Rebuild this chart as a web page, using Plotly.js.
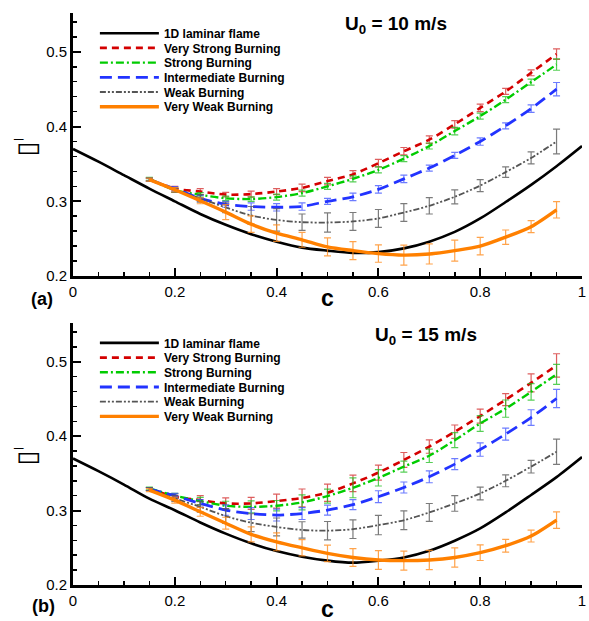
<!DOCTYPE html>
<html><head><meta charset="utf-8">
<script src="https://cdn.plot.ly/plotly-3.0.1.min.js"></script>
<style>html,body{margin:0;padding:0;background:#fff}</style>
</head><body>
<div id="chart" style="width:589px;height:621px"></div>
<script>
// ---------- data ----------
var cLam = [0,0.05,0.1,0.15,0.2,0.25,0.3,0.35,0.4,0.45,0.5,0.55,0.6,0.65,0.7,0.75,0.8,0.85,0.9,0.95,1.0];
var lamA = [0.370,0.353,0.335,0.317,0.300,0.283,0.2685,0.256,0.246,0.238,0.234,0.231,0.232,0.237,0.246,0.259,0.277,0.299,0.322,0.347,0.374];
var lamB = [0.370,0.353,0.335,0.316,0.3005,0.284,0.269,0.256,0.2456,0.238,0.2327,0.230,0.2327,0.237,0.246,0.2595,0.276,0.2975,0.321,0.345,0.372];

var cVals = [0.15,0.2,0.25,0.3,0.35,0.4,0.45,0.5,0.55,0.6,0.65,0.7,0.75,0.8,0.85,0.9,0.95];

// panel (a): U0 = 10 m/s
var vsA  = [0.329,0.317,0.313,0.309,0.3096,0.313,0.318,0.327,0.336,0.351,0.367,0.3825,0.403,0.425,0.447,0.472,0.497];
var sA   = [0.330,0.315,0.3087,0.304,0.303,0.3056,0.311,0.320,0.330,0.342,0.357,0.374,0.394,0.414,0.436,0.4595,0.483];
var iA   = [0.329,0.3168,0.304,0.296,0.293,0.292,0.293,0.300,0.306,0.316,0.330,0.3445,0.3615,0.380,0.401,0.424,0.450];
var wA   = [0.329,0.315,0.304,0.2917,0.281,0.275,0.272,0.2716,0.273,0.277,0.285,0.294,0.306,0.321,0.339,0.358,0.380];
var vwA  = [0.329,0.3154,0.3007,0.2855,0.2694,0.2573,0.2485,0.239,0.234,0.230,0.228,0.2295,0.234,0.240,0.252,0.266,0.2886];
var vsAe = [0.002,0.003,0.004,0.003,0.004,0.004,0.005,0.005,0.005,0.005,0.005,0.005,0.005,0.005,0.004,0.004,0.007];
var sAe  = [0.002,0.003,0.003,0.003,0.003,0.004,0.004,0.004,0.004,0.004,0.004,0.004,0.005,0.004,0.004,0.004,0.0076];
var iAe  = [0.002,0.003,0.004,0.004,0.005,0.005,0.005,0.004,0.005,0.005,0.005,0.004,0.004,0.005,0.004,0.005,0.009];
var wAe  = [0.002,0.003,0.005,0.007,0.012,0.015,0.011,0.0128,0.012,0.012,0.012,0.011,0.0094,0.008,0.007,0.008,0.0166];
var vwAe = [0.002,0.003,0.004,0.010,0.011,0.011,0.010,0.012,0.012,0.0116,0.0134,0.0134,0.014,0.0116,0.0096,0.008,0.011];

// panel (b): U0 = 15 m/s
var vsB  = [0.329,0.3186,0.314,0.3096,0.3096,0.3128,0.317,0.324,0.3365,0.351,0.368,0.386,0.406,0.427,0.449,0.4716,0.495];
var sB   = [0.3297,0.320,0.3128,0.3065,0.305,0.3065,0.311,0.3195,0.3306,0.344,0.359,0.3736,0.3946,0.417,0.437,0.4595,0.483];
var iB   = [0.329,0.320,0.3096,0.3007,0.296,0.294,0.296,0.3007,0.308,0.3186,0.331,0.3454,0.3624,0.382,0.4027,0.425,0.4506];
var wB   = [0.329,0.3163,0.305,0.2926,0.2837,0.278,0.274,0.273,0.275,0.2805,0.287,0.2975,0.3096,0.323,0.340,0.359,0.379];
var vwB  = [0.3275,0.314,0.2984,0.283,0.268,0.258,0.250,0.2425,0.237,0.2336,0.2327,0.2336,0.237,0.2434,0.2528,0.2658,0.2872];
var vsBe = [0.002,0.004,0.006,0.0074,0.008,0.0094,0.012,0.0116,0.011,0.010,0.010,0.009,0.009,0.0094,0.008,0.012,0.0157];
var sBe  = [0.002,0.003,0.005,0.006,0.008,0.007,0.010,0.0094,0.0134,0.011,0.0074,0.009,0.010,0.0105,0.0116,0.011,0.0134];
var iBe  = [0.002,0.003,0.005,0.007,0.008,0.008,0.008,0.0067,0.0067,0.008,0.0074,0.008,0.0074,0.009,0.008,0.0105,0.0123];
var wBe  = [0.002,0.004,0.007,0.010,0.012,0.012,0.011,0.0123,0.0125,0.013,0.0125,0.012,0.0105,0.0085,0.008,0.0085,0.017];
var vwBe = [0.002,0.004,0.006,0.008,0.010,0.012,0.011,0.011,0.012,0.0125,0.0127,0.013,0.013,0.0105,0.0085,0.008,0.011];

var seriesNames = ['1D laminar flame','Very Strong Burning','Strong Burning','Intermediate Burning','Weak Burning','Very Weak Burning'];
var panelTitles = ['<b>U<sub>0</sub> = 10 m/s</b>','<b>U<sub>0</sub> = 15 m/s</b>'];
var panelTags = ['<b>(a)</b>','<b>(b)</b>'];
var xTitle = '<b>c</b>';
var yTitleGlyph = '▭';
var yTitleBar = '¯';

// ---------- styles ----------
var lineStyles = [
  {color:'#000000', width:2.6, dash:'solid'},
  {color:'#d40000', width:2.6, dash:'7px,5px'},
  {color:'#00cc00', width:2.4, dash:'8px,3px,2px,3px'},
  {color:'#2233ff', width:2.8, dash:'12px,6px'},
  {color:'#555555', width:1.8, dash:'6px,2px,2px,2px,2px,2px'},
  {color:'#ff8000', width:3.4, dash:'solid'}
];
var errColors = [null,'rgba(210,40,40,0.75)','rgba(30,190,30,0.75)','rgba(60,80,255,0.75)','rgba(90,90,90,0.8)','rgba(255,140,30,0.8)'];

var FONT = 'Liberation Sans, Arial, Helvetica, sans-serif';
var traces = [];
function legName(panel, k){ var n = panel*6 + k + 1; return n === 1 ? 'legend' : 'legend' + n; }
function addPanel(idx, lam, ys, es){
  var xa = idx===0 ? 'x' : 'x2', ya = idx===0 ? 'y' : 'y2';
  traces.push({x:cLam, y:lam, type:'scatter', mode:'lines', name:seriesNames[0], xaxis:xa, yaxis:ya, legend:legName(idx,0),
    line:{color:lineStyles[0].color, width:lineStyles[0].width, shape:'spline', smoothing:0.8}});
  for (var k=0;k<5;k++){
    var st = lineStyles[k+1];
    traces.push({x:cVals, y:ys[k], type:'scatter', mode:'lines', name:seriesNames[k+1], xaxis:xa, yaxis:ya, legend:legName(idx,k+1),
      line:{color:st.color, width:st.width, dash:st.dash, shape:'spline', smoothing:0.8},
      error_y:{type:'data', array:es[k], visible:true, color:errColors[k+1], thickness:1.2, width:3.5}});
  }
}
addPanel(0, lamA, [vsA,sA,iA,wA,vwA], [vsAe,sAe,iAe,wAe,vwAe]);
addPanel(1, lamB, [vsB,sB,iB,wB,vwB], [vsBe,sBe,iBe,wBe,vwBe]);

function xAxis(anchor){
  return {anchor:anchor, range:[0,1], domain:[0,1], showline:true, linewidth:3, linecolor:'#000', mirror:false,
    ticks:'inside', ticklen:8, tickwidth:2, tickcolor:'#000', tick0:0, dtick:0.2, showgrid:false, zeroline:false,
    tickfont:{family:FONT, size:15, color:'#000'},
    minor:{ticks:'inside', ticklen:4, tickwidth:1.5, tickcolor:'#000', dtick:0.05, showgrid:false}};
}
function yAxis(anchor, dom){
  return {anchor:anchor, range:[0.2,0.552], domain:dom, showline:true, linewidth:3, linecolor:'#000', mirror:false,
    ticks:'inside', ticklen:8, tickwidth:2, tickcolor:'#000', tick0:0.2, dtick:0.1, showgrid:false, zeroline:false,
    tickfont:{family:FONT, size:15, color:'#000'},
    minor:{ticks:'inside', ticklen:4, tickwidth:1.5, tickcolor:'#000', dtick:0.02, showgrid:false}};
}

var layout = {
  width:589, height:621, margin:{l:73, r:7, t:13, b:36},
  paper_bgcolor:'#fff', plot_bgcolor:'#fff', showlegend:true,
  xaxis: xAxis('y'), yaxis: yAxis('x', [0.5402,1]),
  xaxis2: xAxis('y2'), yaxis2: yAxis('x2', [0,0.458]),
  annotations:[]
};
// one legend per row so the row spacing follows the reference
var rowPix = [[33,47.7,62.4,77.1,91.8,106.5],[342.7,357.4,372.1,386.8,401.5,416.2]];
for (var p=0;p<2;p++){
  for (var k=0;k<6;k++){
    layout[legName(p,k)] = {x:0.043, xanchor:'left', y:(585 - (rowPix[p][k] - 14.3))/572, yanchor:'top',
      bgcolor:'rgba(0,0,0,0)', borderwidth:0, itemwidth:59, tracegroupgap:0,
      font:{family:FONT, size:12, color:'#000', weight:'bold'}};
  }
}
var A = layout.annotations;
function ann(x, y, text, font, extra){
  var a = {xref:'paper', yref:'paper', x:x, y:y, text:text, showarrow:false, xanchor:'center', yanchor:'middle', font:font};
  if (extra) for (var key in extra) a[key] = extra[key];
  A.push(a);
}
ann(0.634, (585-25)/572, panelTitles[0], {family:FONT, color:'#000', size:19});
ann(0.6935, (585-336)/572, panelTitles[1], {family:FONT, color:'#000', size:19});
ann((41.5-73)/509, (585-299)/572, panelTags[0], {family:FONT, color:'#000', size:18});
ann((43.5-73)/509, (585-606)/572, panelTags[1], {family:FONT, color:'#000', size:18});
ann(0.5, (585-298)/572, xTitle, {family:FONT, color:'#000', size:23});
ann(0.5, (585-609)/572, xTitle, {family:FONT, color:'#000', size:23});
ann((29-73)/509, (585-146)/572, yTitleGlyph, {family:'DejaVu Sans', color:'#000', size:27});
ann((29-73)/509, (585-455.5)/572, yTitleGlyph, {family:'DejaVu Sans', color:'#000', size:27});
ann((18.5-73)/509, (585-146)/572, yTitleBar, {family:FONT, color:'#000', size:17, weight:'bold'});
ann((18.5-73)/509, (585-455.7)/572, yTitleBar, {family:FONT, color:'#000', size:17, weight:'bold'});

Plotly.newPlot('chart', traces, layout, {displayModeBar:false, staticPlot:true});
</script>
</body></html>
